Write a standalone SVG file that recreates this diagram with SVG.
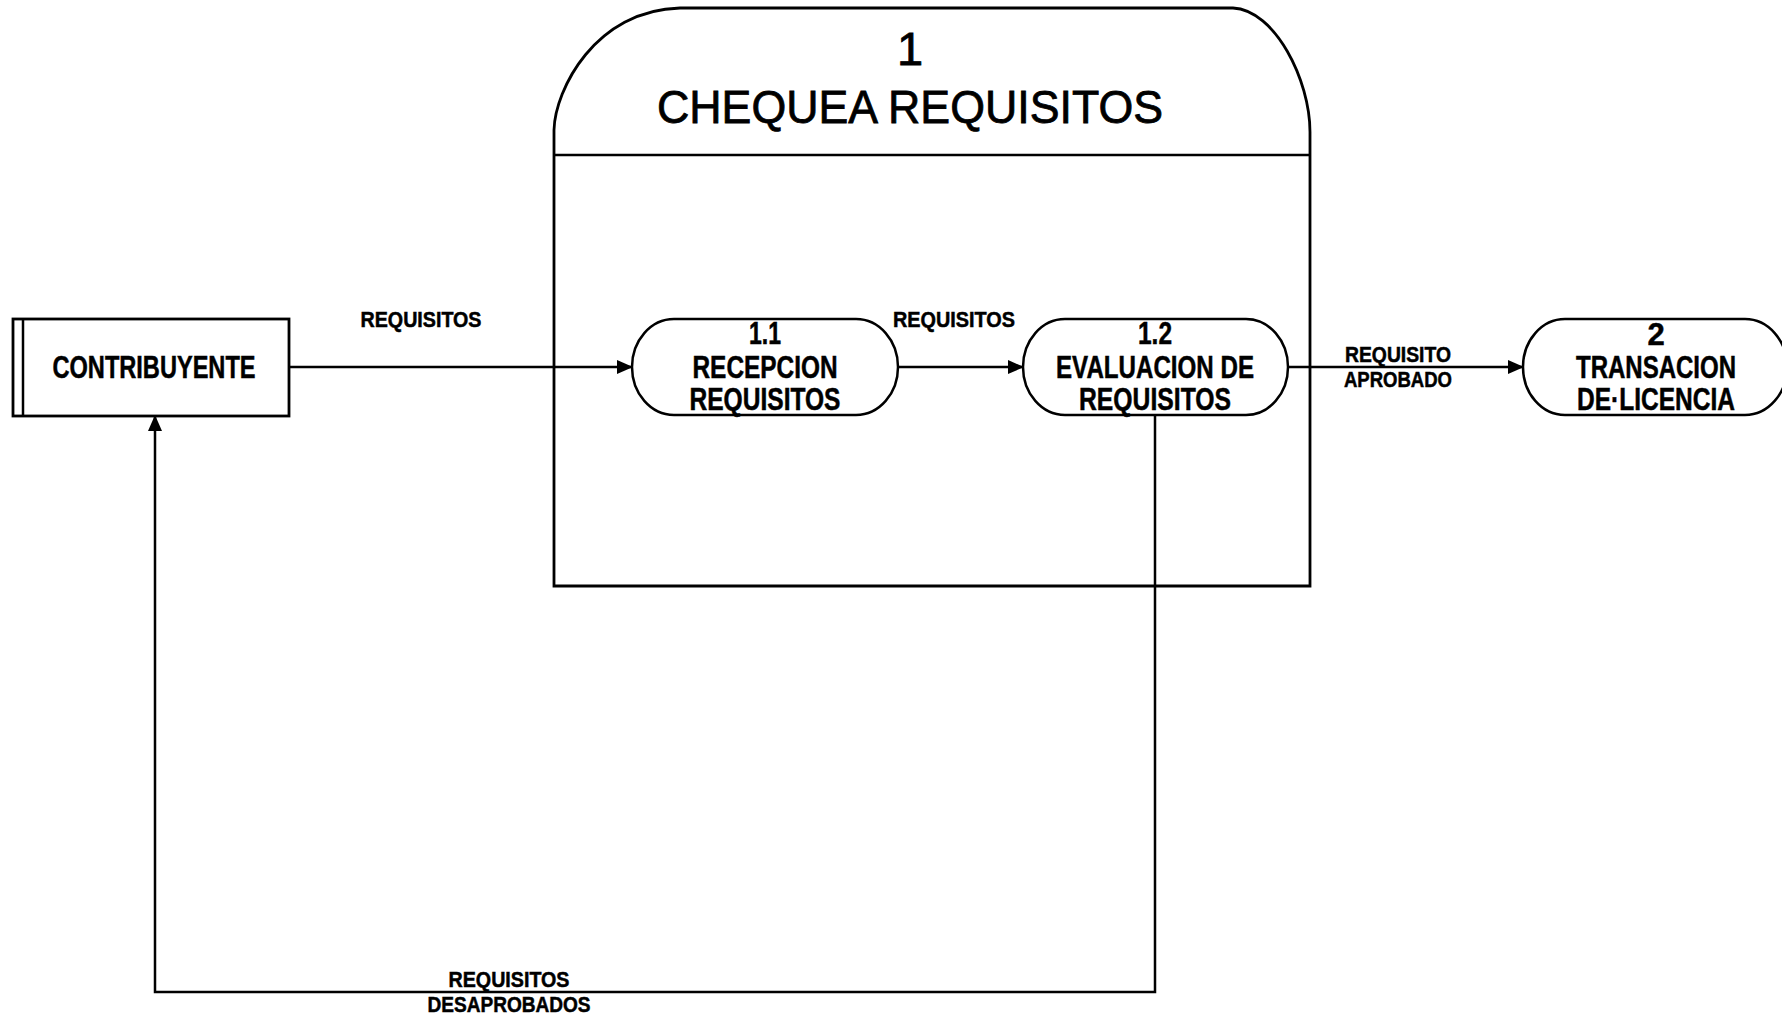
<svg xmlns="http://www.w3.org/2000/svg" width="1782" height="1017" viewBox="0 0 1782 1017">
  <style>
    .ln { fill: none; stroke: #000; stroke-width: 2.5; }
    .box { fill: #fff; stroke: #000; stroke-width: 2.8; }
    .proc { fill: #fff; stroke: #000; stroke-width: 2.5; }
    .t { font-family: "Liberation Sans", Arial, sans-serif; font-weight: bold; fill: #000; stroke: #000; stroke-width: 0.5; text-anchor: middle; }
    .n { font-size: 31px; }
    .lbl { font-size: 22px; }
    .title { font-family: "Liberation Sans", Arial, sans-serif; font-weight: normal; fill: #000; stroke: #000; stroke-width: 0.8; text-anchor: middle; font-size: 47px; }
  </style>
  <defs>
    <marker id="arr" viewBox="0 0 16 14" refX="15" refY="7" markerWidth="16" markerHeight="14" markerUnits="userSpaceOnUse" orient="auto">
      <path d="M0,0 L16,7 L0,14 Z" fill="#000"/>
    </marker>
  </defs>
  <rect width="1782" height="1017" fill="#fff"/>

  <g id="process-1">
    <path class="box" d="M554,586 L554,130 C555,90 595,10 680,8 L1233,8 C1275,10 1310,80 1310,132 L1310,586 Z"/>
    <line class="ln" x1="554" y1="155" x2="1310" y2="155" stroke-width="2.8"/>
    <text class="title" x="910" y="65">1</text>
    <text class="title" x="910" y="123" textLength="506" lengthAdjust="spacingAndGlyphs">CHEQUEA REQUISITOS</text>
  </g>

  <g id="connectors">
    <line class="ln" x1="289" y1="367" x2="632" y2="367" marker-end="url(#arr)"/>
    <line class="ln" x1="898" y1="367" x2="1023" y2="367" marker-end="url(#arr)"/>
    <line class="ln" x1="1288" y1="367" x2="1523" y2="367" marker-end="url(#arr)"/>
    <polyline class="ln" points="1155,415 1155,992 155,992 155,416" marker-end="url(#arr)"/>
    <text class="t lbl" x="421" y="327" textLength="121" lengthAdjust="spacingAndGlyphs">REQUISITOS</text>
    <text class="t lbl" x="954" y="327" textLength="122" lengthAdjust="spacingAndGlyphs">REQUISITOS</text>
    <text class="t lbl" x="1398" y="362" textLength="106" lengthAdjust="spacingAndGlyphs">REQUISITO</text>
    <text class="t lbl" x="1398" y="387" textLength="108" lengthAdjust="spacingAndGlyphs">APROBADO</text>
    <text class="t lbl" x="509" y="987" textLength="121" lengthAdjust="spacingAndGlyphs">REQUISITOS</text>
    <text class="t lbl" x="509" y="1012" textLength="163" lengthAdjust="spacingAndGlyphs">DESAPROBADOS</text>
  </g>

  <g id="contribuyente">
    <rect class="box" x="13" y="319" width="276" height="97"/>
    <line class="ln" x1="23" y1="319" x2="23" y2="416"/>
    <text class="t n" x="154" y="378" textLength="203" lengthAdjust="spacingAndGlyphs">CONTRIBUYENTE</text>
  </g>

  <g id="process-1-1">
    <rect class="proc" x="632" y="319" width="266" height="96" rx="42" ry="48"/>
    <text class="t n" x="765" y="344" textLength="32" lengthAdjust="spacingAndGlyphs">1.1</text>
    <text class="t n" x="765" y="378" textLength="145" lengthAdjust="spacingAndGlyphs">RECEPCION</text>
    <text class="t n" x="765" y="410" textLength="151" lengthAdjust="spacingAndGlyphs">REQUISITOS</text>
  </g>

  <g id="process-1-2">
    <rect class="proc" x="1023" y="319" width="265" height="96" rx="42" ry="48"/>
    <text class="t n" x="1155" y="344" textLength="34" lengthAdjust="spacingAndGlyphs">1.2</text>
    <text class="t n" x="1155" y="378" textLength="198" lengthAdjust="spacingAndGlyphs">EVALUACION DE</text>
    <text class="t n" x="1155" y="410" textLength="152" lengthAdjust="spacingAndGlyphs">REQUISITOS</text>
  </g>

  <g id="process-2">
    <rect class="proc" x="1523" y="319" width="264" height="96" rx="42" ry="48"/>
    <text class="t n" x="1656" y="345">2</text>
    <text class="t n" x="1656" y="378" textLength="160" lengthAdjust="spacingAndGlyphs">TRANSACION</text>
    <text class="t n" x="1656" y="410" textLength="158" lengthAdjust="spacingAndGlyphs">DE·LICENCIA</text>
  </g>
</svg>
